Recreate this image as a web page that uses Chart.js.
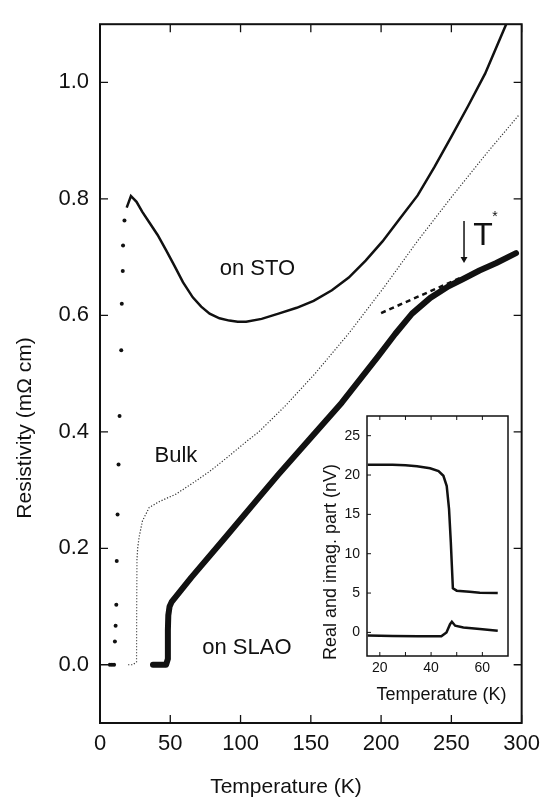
<!DOCTYPE html>
<html>
<head>
<meta charset="utf-8">
<script src="https://cdn.jsdelivr.net/npm/chart.js@4.4.1/dist/chart.umd.min.js"></script>
<style>
  html, body { margin: 0; padding: 0; background: #fff; }
  #wrap { position: relative; width: 548px; height: 802px; }
  #main { position: absolute; left: 0; top: 0; }
  #inset { position: absolute; left: 300px; top: 400px; }
</style>
</head>
<body>
<div id="wrap">
  <canvas id="main" width="548" height="802"></canvas>
  <canvas id="inset" width="230" height="310"></canvas>
</div>
<script>
/* Resistivity vs temperature (films on STO / SLAO, bulk)
   with an inset of the real and imaginary signal. */

const FONT = '"Liberation Sans", Arial, Helvetica, sans-serif';
const INK = '#111';

// main panel ticks
const xTicks = [0, 50, 100, 150, 200, 250, 300];
const yTicks = [0, 0.2, 0.4, 0.6, 0.8, 1.0];

// film on STO: sparse points through the transition, then the dense curve
const stoDotT = [7, 8.5, 10, 10.6, 11.1, 11.6, 11.9, 12.5, 13.2, 13.9, 15.1, 15.5, 16.2, 16.4, 17.4];
const stoDotR = [0, 0, 0, 0.04, 0.067, 0.103, 0.178, 0.258, 0.344, 0.427, 0.54, 0.62, 0.676, 0.72, 0.763];
const stoT = [19, 22, 26, 30, 35, 41, 47, 53, 59, 66, 72, 78, 85, 92, 98, 104, 115, 127, 140, 152, 165, 177, 189, 201, 213, 226, 238, 250, 262, 274, 289];
const stoR = [0.785, 0.805, 0.795, 0.778, 0.76, 0.738, 0.712, 0.685, 0.657, 0.631, 0.615, 0.603, 0.595, 0.591, 0.589, 0.589, 0.594, 0.603, 0.613, 0.625, 0.643, 0.665, 0.694, 0.727, 0.765, 0.806, 0.855, 0.907, 0.96, 1.015, 1.1];

// bulk sample
const bulkT = [20, 23.5, 26, 26.1, 26.3, 26.8, 27.8, 30.2, 35, 42, 54, 66, 78, 90, 104, 113, 132, 153, 177, 202, 226, 251, 275, 298];
const bulkR = [0, 0, 0.005, 0.1, 0.18, 0.2, 0.219, 0.247, 0.27, 0.28, 0.293, 0.312, 0.332, 0.355, 0.383, 0.4, 0.445, 0.5, 0.569, 0.648, 0.728, 0.806, 0.878, 0.944];

// film on SLAO
const slaoT = [37.7, 47, 48.3, 48.3, 48.6, 49.5, 51, 65, 89, 113, 127, 150, 172, 198, 210, 222, 235, 248, 258, 270, 282, 296];
const slaoR = [0, 0, 0.01, 0.06, 0.085, 0.1, 0.108, 0.15, 0.218, 0.287, 0.327, 0.39, 0.45, 0.53, 0.568, 0.603, 0.63, 0.65, 0.662, 0.677, 0.69, 0.707];

// linear extrapolation and T* arrow
const kinkT = [200, 258];
const kinkR = [0.604, 0.666];
const arrowT = [259, 259];
const arrowR = [0.762, 0.697];

// inset
const insetXTicks = [20, 40, 60];
const insetYTicks = [0, 5, 10, 15, 20, 25];
const realT = [15.3, 20, 25, 30, 34.5, 39.6, 42.9, 44.8, 46.1, 47, 47.7, 48.1, 48.5, 50, 55, 59, 66];
const realV = [21.3, 21.3, 21.3, 21.25, 21.1, 20.85, 20.5, 19.9, 18.6, 15.7, 11.4, 8.5, 5.6, 5.3, 5.15, 5.05, 5.0];
const imagT = [15.3, 25, 35, 44, 46, 47.4, 48.1, 49.4, 52.6, 59, 66];
const imagV = [-0.4, -0.45, -0.5, -0.5, 0, 1.05, 1.35, 0.85, 0.63, 0.42, 0.2];

const pts = (xs, ys) => xs.map((x, i) => ({ x, y: ys[i] }));

// box around the plot with inward ticks
function frameBox(o) {
  return {
    id: 'frameBox',
    afterDatasetsDraw(chart) {
      const { ctx, chartArea: a, scales: { x, y } } = chart;
      ctx.save();
      ctx.strokeStyle = INK;
      ctx.lineWidth = o.frame;
      ctx.strokeRect(a.left, a.top, a.right - a.left, a.bottom - a.top);
      ctx.lineWidth = o.tick;
      ctx.beginPath();
      o.xs.forEach(v => {
        const px = x.getPixelForValue(v);
        ctx.moveTo(px, a.bottom); ctx.lineTo(px, a.bottom - o.len);
        if (o.top) { ctx.moveTo(px, a.top); ctx.lineTo(px, a.top + o.len); }
      });
      o.ys.forEach(v => {
        const py = y.getPixelForValue(v);
        ctx.moveTo(a.left, py); ctx.lineTo(a.left + o.len, py);
        if (o.right) { ctx.moveTo(a.right, py); ctx.lineTo(a.right - o.len, py); }
      });
      ctx.stroke();
      ctx.restore();
    }
  };
}

// free text: in data units when data is true, else canvas pixels
function textLayer(items) {
  return {
    id: 'textLayer',
    afterDraw(chart) {
      const { ctx, scales: { x, y } } = chart;
      items.forEach(it => {
        ctx.save();
        ctx.fillStyle = INK;
        ctx.font = it.size + 'px ' + FONT;
        ctx.textAlign = 'center';
        ctx.textBaseline = 'alphabetic';
        const px = it.data ? x.getPixelForValue(it.x) : it.x;
        const py = it.data ? y.getPixelForValue(it.y) : it.y;
        ctx.translate(px, py);
        if (it.rot) ctx.rotate(it.rot);
        ctx.fillText(it.text, 0, 0);
        ctx.restore();
      });
    }
  };
}

function axis(min, max, ticks, fmt, size, pad, fit) {
  return {
    type: 'linear', min, max,
    afterBuildTicks: s => { s.ticks = ticks.map(v => ({ value: v })); },
    afterFit: fit,
    grid: { display: false, drawTicks: false },
    border: { display: false },
    ticks: { font: { family: FONT, size }, color: INK, padding: pad, callback: fmt, maxRotation: 0 }
  };
}

new Chart(document.getElementById('main'), {
  type: 'scatter',
  data: {
    datasets: [
      { data: pts(stoT, stoR), showLine: true, borderColor: INK, borderWidth: 2.5, pointRadius: 0 },
      { data: pts(stoDotT, stoDotR), showLine: false, pointRadius: 2, backgroundColor: INK, borderWidth: 0 },
      { data: pts(bulkT, bulkR), showLine: true, borderColor: '#333', borderWidth: 1.2, borderDash: [1.2, 1.8], pointRadius: 0 },
      { data: pts(slaoT, slaoR), showLine: true, borderColor: INK, borderWidth: 6, borderCapStyle: 'round', borderJoinStyle: 'round', pointRadius: 0 },
      { data: pts(kinkT, kinkR), showLine: true, borderColor: INK, borderWidth: 2.5, borderDash: [5, 4], pointRadius: 0 },
      { data: pts(arrowT, arrowR), showLine: true, borderColor: INK, borderWidth: 1.5, pointRadius: [0, 4], pointStyle: 'triangle', rotation: 180, backgroundColor: INK, pointBorderWidth: 0 }
    ]
  },
  options: {
    responsive: false,
    animation: false,
    layout: { padding: { top: 13, right: 23, bottom: 0, left: 0 } },
    plugins: { legend: { display: false }, tooltip: { enabled: false } },
    scales: {
      x: axis(0, 300, xTicks, v => String(v), 22, 8, s => { s.height = 79; }),
      y: axis(-0.1, 1.1, yTicks, v => v.toFixed(1), 22, 11, s => { s.width = 100; })
    }
  },
  plugins: [
    frameBox({ xs: xTicks, ys: yTicks, len: 8, frame: 2, tick: 1.3, top: true, right: true }),
    textLayer([
      { text: 'on STO', x: 112, y: 0.669, size: 22, data: true },
      { text: 'Bulk', x: 54, y: 0.348, size: 22, data: true },
      { text: 'on SLAO', x: 104.5, y: 0.018, size: 22, data: true },
      { text: 'T', x: 272.5, y: 0.72, size: 32, data: true },
      { text: '*', x: 281, y: 0.762, size: 14, data: true },
      { text: 'Temperature (K)', x: 286, y: 793, size: 21 },
      { text: 'Resistivity (m\u03A9 cm)', x: 31, y: 428, size: 21, rot: -Math.PI / 2 }
    ])
  ]
});

new Chart(document.getElementById('inset'), {
  type: 'scatter',
  data: {
    datasets: [
      { data: pts(realT, realV), showLine: true, borderColor: INK, borderWidth: 2.5, pointRadius: 0 },
      { data: pts(imagT, imagV), showLine: true, borderColor: INK, borderWidth: 2.5, pointRadius: 0 }
    ]
  },
  options: {
    responsive: false,
    animation: false,
    layout: { padding: { top: 16, right: 22, bottom: 0, left: 0 } },
    plugins: { legend: { display: false }, tooltip: { enabled: false } },
    scales: {
      x: axis(15, 70, insetXTicks, v => String(v), 14, 4, s => { s.height = 54; }),
      y: axis(-3, 27.5, insetYTicks, v => String(v), 14, 7, s => { s.width = 67; })
    }
  },
  plugins: [
    frameBox({ xs: [20, 30, 40, 50, 60], ys: insetYTicks, len: 4, frame: 1.5, tick: 1, top: true, right: false }),
    textLayer([
      { text: 'Temperature (K)', x: 141.5, y: 300, size: 18 },
      { text: 'Real and imag. part (nV)', x: 36, y: 162, size: 18, rot: -Math.PI / 2 }
    ])
  ]
});
</script>
</body>
</html>
